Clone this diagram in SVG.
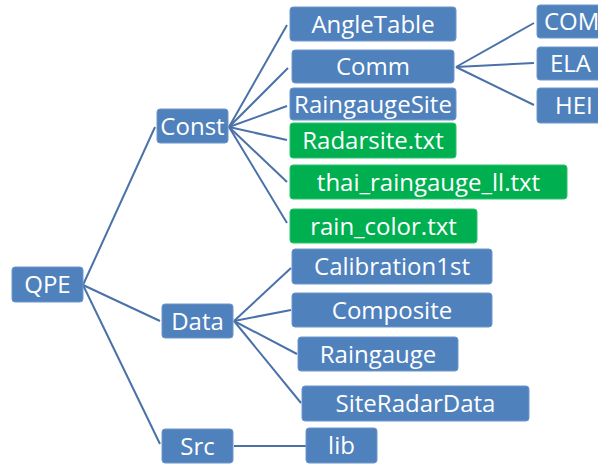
<svg xmlns="http://www.w3.org/2000/svg" width="598" height="466" viewBox="0 0 598 466">
<style>
.b{fill:#4F81BD;stroke:#6E96CB;stroke-width:1}
.g{fill:#00B050;stroke:#2CC36B;stroke-width:1}
text{font-family:"Open Sans","Noto Sans",sans-serif;font-size:24px;fill:#FFFFFF}
.m{text-anchor:middle}
#connectors line{stroke:#4A72A8;stroke-width:2}
</style>
<rect width="598" height="466" fill="#FFFFFF"/>
<g id="connectors">
<line x1="83" y1="285" x2="155" y2="127"/>
<line x1="83" y1="285" x2="160" y2="321"/>
<line x1="83" y1="285" x2="160" y2="444"/>
<line x1="229" y1="127" x2="287" y2="25"/>
<line x1="229" y1="127" x2="288" y2="68"/>
<line x1="229" y1="127" x2="287" y2="106"/>
<line x1="229" y1="127" x2="287" y2="140"/>
<line x1="229" y1="127" x2="287" y2="182"/>
<line x1="229" y1="127" x2="287" y2="223"/>
<line x1="456" y1="67" x2="534" y2="23"/>
<line x1="456" y1="67" x2="534" y2="63"/>
<line x1="456" y1="67" x2="534" y2="105"/>
<line x1="234" y1="321" x2="291" y2="268"/>
<line x1="234" y1="321" x2="291" y2="310"/>
<line x1="234" y1="321" x2="297" y2="354"/>
<line x1="234" y1="321" x2="301" y2="403"/>
<line x1="234" y1="446" x2="306" y2="446"/>
</g>
<g id="QPE"><rect class="b" x="12" y="267" width="71" height="35" rx="3"/><text class="m" x="47.5" y="293">QPE</text></g>
<g id="Const"><rect class="b" x="157" y="109" width="71" height="34" rx="3"/><text class="m" x="192.5" y="135">Const</text></g>
<g id="Data"><rect class="b" x="162" y="304" width="71" height="34" rx="3"/><text class="m" x="197.5" y="330">Data</text></g>
<g id="Src"><rect class="b" x="162" y="429" width="71" height="34" rx="3"/><text class="m" x="197.5" y="455">Src</text></g>
<g id="AngleTable"><rect class="b" x="290" y="7" width="166" height="34" rx="3"/><text class="m" x="373" y="33">AngleTable</text></g>
<g id="Comm"><rect class="b" x="292" y="50" width="162" height="33" rx="3"/><text class="m" x="373" y="75">Comm</text></g>
<g id="RaingaugeSite"><rect class="b" x="290" y="88" width="166" height="32" rx="3"/><text class="m" x="373" y="113">RaingaugeSite</text></g>
<g id="Radarsite"><rect class="g" x="290" y="123" width="166" height="35" rx="3"/><text class="m" x="373" y="149">Radarsite.txt</text></g>
<g id="thai"><rect class="g" x="290" y="165" width="277" height="34" rx="3"/><text class="m" x="428.5" y="191">thai_raingauge_ll.txt</text></g>
<g id="rain_color"><rect class="g" x="290" y="209" width="187" height="34" rx="3"/><text class="m" x="383.5" y="235">rain_color.txt</text></g>
<g id="COM"><rect class="b" x="537" y="5" width="80" height="33" rx="3"/><text x="544" y="30">COM</text></g>
<g id="ELA"><rect class="b" x="537" y="47" width="80" height="33" rx="3"/><text x="550" y="72">ELA</text></g>
<g id="HEI"><rect class="b" x="537" y="88" width="80" height="35" rx="3"/><text x="555" y="114">HEI</text></g>
<g id="Calibration1st"><rect class="b" x="292" y="249" width="200" height="35" rx="3"/><text class="m" x="392" y="275">Calibration1st</text></g>
<g id="Composite"><rect class="b" x="292" y="293" width="200" height="34" rx="3"/><text class="m" x="392" y="319">Composite</text></g>
<g id="Raingauge"><rect class="b" x="298" y="337" width="160" height="34" rx="3"/><text class="m" x="378" y="363">Raingauge</text></g>
<g id="SiteRadarData"><rect class="b" x="302" y="386" width="227" height="35" rx="3"/><text class="m" x="415.5" y="412">SiteRadarData</text></g>
<g id="lib"><rect class="b" x="306" y="428" width="71" height="35" rx="3"/><text class="m" x="341.5" y="454">lib</text></g>
</svg>
